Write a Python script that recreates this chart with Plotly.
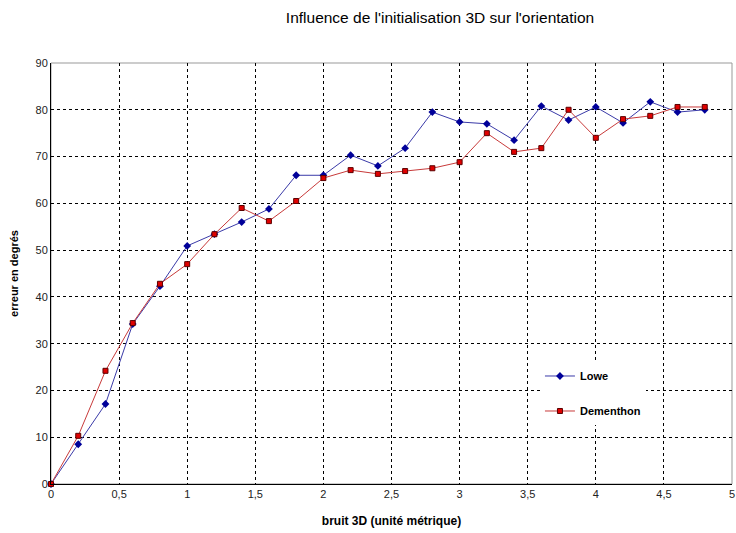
import plotly.graph_objects as go

x_bruit = [0, 0.2, 0.4, 0.6, 0.8, 1.0, 1.2, 1.4, 1.6, 1.8, 2.0, 2.2, 2.4, 2.6, 2.8,
           3.0, 3.2, 3.4, 3.6, 3.8, 4.0, 4.2, 4.4, 4.6, 4.8]
lowe = [0, 8.5, 17.1, 34.2, 42.3, 50.9, 53.4, 56.0, 58.8, 66.0, 66.0, 70.3, 68.0, 71.8, 79.5,
        77.4, 77.0, 73.5, 80.8, 77.8, 80.6, 77.2, 81.7, 79.5, 80.0]
dementhon = [0, 10.3, 24.2, 34.4, 42.8, 47.0, 53.4, 59.0, 56.2, 60.5, 65.4, 67.1, 66.3, 66.9, 67.5,
             68.8, 75.0, 71.0, 71.8, 80.0, 74.0, 78.0, 78.7, 80.6, 80.6]

x_ticks = [0, 0.5, 1, 1.5, 2, 2.5, 3, 3.5, 4, 4.5, 5]
y_ticks = [0, 10, 20, 30, 40, 50, 60, 70, 80, 90]

FONT = "Liberation Sans, Arial, sans-serif"

fig = go.Figure()
fig.add_trace(go.Scatter(
    x=x_bruit, y=lowe, name="<b>Lowe</b>", mode="lines+markers", legendgroup="a",
    line=dict(color="#3a3aa8", width=1),
    marker=dict(symbol="diamond", size=6, color="#000099", line=dict(width=0)),
    cliponaxis=False,
))
fig.add_trace(go.Scatter(
    x=x_bruit, y=dementhon, name="<b>Dementhon</b>", mode="lines+markers", legendgroup="b",
    line=dict(color="#c83a3a", width=1),
    marker=dict(symbol="square", size=5, color="#e00000", line=dict(width=1, color="#5a0000")),
    cliponaxis=False,
))

W, H = 736, 533
axis_font = dict(family=FONT, size=11, color="#222")
fig.update_layout(
    width=W, height=H,
    margin=dict(l=51, r=4, t=63, b=49),
    paper_bgcolor="white", plot_bgcolor="white",
    separators=", ",
    title=dict(text="Influence de l'initialisation 3D sur l'orientation",
               x=440 / W, xanchor="center", xref="container", y=1 - 18 / H, yanchor="middle",
               font=dict(family=FONT, size=15.5, color="black")),
    xaxis=dict(range=[0, 5], tickvals=x_ticks, tickformat=".1~f", automargin=False,
               ticklabeloverflow="allow",
               showgrid=True, gridcolor="black", griddash="3px,3px", gridwidth=1,
               showline=True, linecolor="black", linewidth=1, mirror=False,
               zeroline=False, ticks="", tickfont=axis_font,
               title=dict(text="<b>bruit 3D (unité métrique)</b>", standoff=17,
                          font=dict(family=FONT, size=12, color="black"))),
    yaxis=dict(range=[0, 90], tickvals=y_ticks, automargin=False,
               showgrid=True, gridcolor="black", griddash="3px,3px", gridwidth=1,
               showline=True, linecolor="black", linewidth=1,
               zeroline=False, ticks="", tickfont=axis_font,
               title=dict(text="<b>erreur en degrés</b>", standoff=14,
                          font=dict(family=FONT, size=11, color="black"))),
    legend=dict(x=0.718, y=0.291, xanchor="left", yanchor="top",
                bgcolor="white", borderwidth=0, tracegroupgap=16,
                traceorder="grouped",
                font=dict(family=FONT, size=11, color="black")),
)
# grey top/right border of plot area
fig.add_shape(type="rect", xref="paper", yref="paper", x0=0, y0=0, x1=1, y1=1,
              line=dict(color="#999999", width=1), layer="below")

# remove the default page margin so the figure fills the window exactly
fig.write_html("out.html",
               config={"displayModeBar": False},
               post_script="document.body.style.margin='0';"
                           "document.body.style.overflow='hidden';")
